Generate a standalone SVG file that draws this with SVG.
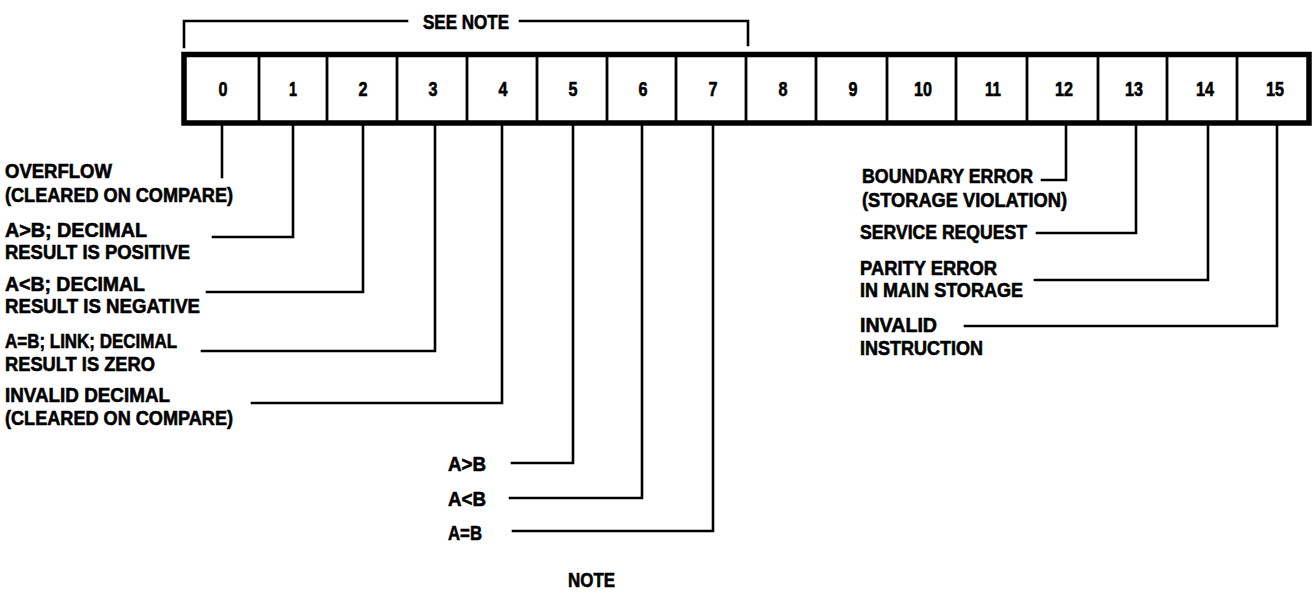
<svg xmlns="http://www.w3.org/2000/svg" width="1312" height="592" viewBox="0 0 1312 592">
<style>
text{font-family:"Liberation Sans",Arial,sans-serif;font-weight:bold;font-size:20px;fill:#000;stroke:#000;stroke-width:0.6}
.d{text-anchor:middle}
.w{stroke:#000;stroke-width:2.6;fill:none;stroke-linecap:square;stroke-linejoin:miter}
.div{stroke:#000;stroke-width:2.8}
</style>
<rect width="1312" height="592" fill="#fff"/>
<g id="bracket">
<path class="w" d="M184,47 V21 H407 M520,21 H748 V45"/>
<text x="423" y="29" textLength="86" lengthAdjust="spacingAndGlyphs">SEE NOTE</text>
</g>
<g id="register">
<rect x="184" y="54.5" width="1125" height="68.5" fill="#fff" stroke="#000" stroke-width="5.5"/>
<path class="div" d="M259,57V121 M327,57V121 M397,57V121 M467,57V121 M537,57V121 M607,57V121 M676,57V121 M746,57V121 M816,57V121 M887,57V121 M956,57V121 M1027,57V121 M1098,57V121 M1167,57V121 M1237,57V121"/>
<text class="d" x="223" y="96" textLength="9" lengthAdjust="spacingAndGlyphs">0</text>
<text class="d" x="293" y="96" textLength="8" lengthAdjust="spacingAndGlyphs">1</text>
<text class="d" x="363" y="96" textLength="9" lengthAdjust="spacingAndGlyphs">2</text>
<text class="d" x="433" y="96" textLength="9" lengthAdjust="spacingAndGlyphs">3</text>
<text class="d" x="503" y="96" textLength="9" lengthAdjust="spacingAndGlyphs">4</text>
<text class="d" x="573" y="96" textLength="9" lengthAdjust="spacingAndGlyphs">5</text>
<text class="d" x="643" y="96" textLength="9" lengthAdjust="spacingAndGlyphs">6</text>
<text class="d" x="713" y="96" textLength="9" lengthAdjust="spacingAndGlyphs">7</text>
<text class="d" x="783" y="96" textLength="9" lengthAdjust="spacingAndGlyphs">8</text>
<text class="d" x="853" y="96" textLength="9" lengthAdjust="spacingAndGlyphs">9</text>
<text class="d" x="923" y="96" textLength="18" lengthAdjust="spacingAndGlyphs">10</text>
<text class="d" x="993" y="96" textLength="16" lengthAdjust="spacingAndGlyphs">11</text>
<text class="d" x="1064" y="96" textLength="18" lengthAdjust="spacingAndGlyphs">12</text>
<text class="d" x="1134" y="96" textLength="18" lengthAdjust="spacingAndGlyphs">13</text>
<text class="d" x="1205" y="96" textLength="18" lengthAdjust="spacingAndGlyphs">14</text>
<text class="d" x="1275" y="96" textLength="18" lengthAdjust="spacingAndGlyphs">15</text>
</g>
<g id="connectors">
<path class="w" d="M222,126 V177"/>
<path class="w" d="M293,126 V237 H213"/>
<path class="w" d="M363,126 V292 H207"/>
<path class="w" d="M435,126 V351 H202"/>
<path class="w" d="M502,126 V403 H252"/>
<path class="w" d="M573,126 V463 H512"/>
<path class="w" d="M642,126 V498 H510"/>
<path class="w" d="M713,126 V531 H513"/>
<path class="w" d="M1066,126 V180 H1042"/>
<path class="w" d="M1136,126 V233 H1037"/>
<path class="w" d="M1208,126 V280 H1035"/>
<path class="w" d="M1277,126 V326 H965"/>
</g>
<g id="bit0-label">
<text x="5" y="178" textLength="107" lengthAdjust="spacingAndGlyphs">OVERFLOW</text>
<text x="5" y="202" textLength="228" lengthAdjust="spacingAndGlyphs">(CLEARED ON COMPARE)</text>
</g>
<g id="bit1-label">
<text x="5" y="237" textLength="142" lengthAdjust="spacingAndGlyphs">A&gt;B; DECIMAL</text>
<text x="5" y="259" textLength="185" lengthAdjust="spacingAndGlyphs">RESULT IS POSITIVE</text>
</g>
<g id="bit2-label">
<text x="5" y="291" textLength="140" lengthAdjust="spacingAndGlyphs">A&lt;B; DECIMAL</text>
<text x="5" y="313" textLength="195" lengthAdjust="spacingAndGlyphs">RESULT IS NEGATIVE</text>
</g>
<g id="bit3-label">
<text x="5" y="348" textLength="172" lengthAdjust="spacingAndGlyphs">A=B; LINK; DECIMAL</text>
<text x="5" y="371" textLength="150" lengthAdjust="spacingAndGlyphs">RESULT IS ZERO</text>
</g>
<g id="bit4-label">
<text x="5" y="402" textLength="165" lengthAdjust="spacingAndGlyphs">INVALID DECIMAL</text>
<text x="5" y="425" textLength="228" lengthAdjust="spacingAndGlyphs">(CLEARED ON COMPARE)</text>
</g>
<g id="bit5-label"><text x="448" y="471" textLength="38" lengthAdjust="spacingAndGlyphs">A&gt;B</text></g>
<g id="bit6-label"><text x="448" y="506" textLength="38" lengthAdjust="spacingAndGlyphs">A&lt;B</text></g>
<g id="bit7-label"><text x="448" y="540" textLength="34" lengthAdjust="spacingAndGlyphs">A=B</text></g>
<g id="note"><text x="568" y="587" textLength="47" lengthAdjust="spacingAndGlyphs">NOTE</text></g>
<g id="bit12-label">
<text x="862" y="183" textLength="171" lengthAdjust="spacingAndGlyphs">BOUNDARY ERROR</text>
<text x="862" y="207" textLength="205" lengthAdjust="spacingAndGlyphs">(STORAGE VIOLATION)</text>
</g>
<g id="bit13-label">
<text x="860" y="239" textLength="167" lengthAdjust="spacingAndGlyphs">SERVICE REQUEST</text>
</g>
<g id="bit14-label">
<text x="860" y="275" textLength="137" lengthAdjust="spacingAndGlyphs">PARITY ERROR</text>
<text x="860" y="297" textLength="163" lengthAdjust="spacingAndGlyphs">IN MAIN STORAGE</text>
</g>
<g id="bit15-label">
<text x="860" y="332" textLength="77" lengthAdjust="spacingAndGlyphs">INVALID</text>
<text x="860" y="355" textLength="123" lengthAdjust="spacingAndGlyphs">INSTRUCTION</text>
</g>
</svg>
